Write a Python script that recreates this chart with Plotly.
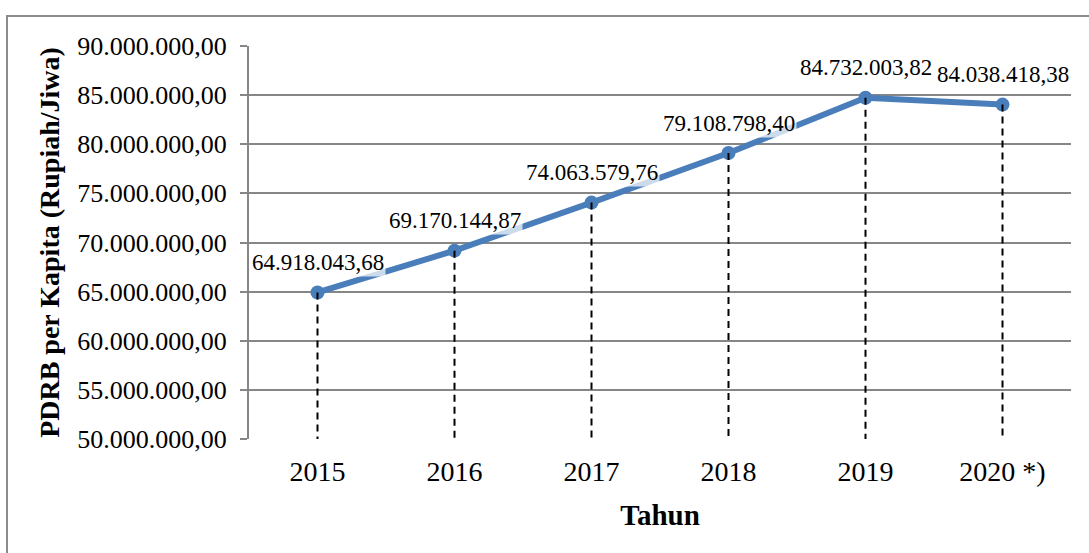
import plotly.graph_objects as go

years = ["2015", "2016", "2017", "2018", "2019", "2020 *)"]
pdrb = [64918043.68, 69170144.87, 74063579.76, 79108798.40, 84732003.82, 84038418.38]
y_min, y_max, y_step = 50000000, 90000000, 5000000

def fmt(v):
    s = f"{v:,.2f}"
    return s.replace(",", "X").replace(".", ",").replace("X", ".")

SERIF = "Liberation Serif"
W, H = 1089, 553
L, R, T, B = 249, 18, 46, 114
BLUE = "#4a7ebb"
GRID = "#868686"

fig = go.Figure()
fig.add_trace(go.Scatter(
    x=years, y=pdrb, mode="lines+markers",
    line=dict(color=BLUE, width=6),
    marker=dict(color=BLUE, size=14),
    showlegend=False, hoverinfo="skip",
))
# drop lines
dx, dy = [], []
for yr, v in zip(years, pdrb):
    dx += [yr, yr, None]
    dy += [v, y_min, None]
fig.add_trace(go.Scatter(
    x=dx, y=dy, mode="lines",
    line=dict(color="black", width=2, dash="7px,5px"),
    showlegend=False, hoverinfo="skip",
))

for i, v in enumerate(pdrb):
    fig.add_annotation(
        x=i, y=v, text=fmt(v), showarrow=False, yshift=30,
        font=dict(family=SERIF, size=23, color="black"),
        bgcolor="rgba(255,255,255,0.72)", borderpad=1,
    )

pw = W - L - R
ph = H - T - B
fig.add_shape(
    type="rect", xref="paper", yref="paper",
    x0=(7 - L) / pw, x1=(W + 10 - L) / pw,
    y0=-(H + 10 - T - ph) / ph, y1=1 + (T - 16) / ph,
    line=dict(color="#8c8c8c", width=2), layer="below",
)

fig.update_layout(
    width=W, height=H,
    margin=dict(l=L, r=R, t=T, b=B),
    paper_bgcolor="white", plot_bgcolor="white",
    separators=",.",
    font=dict(family=SERIF, color="black"),
)
fig.update_xaxes(
    type="category", showgrid=False, showline=False, ticks="",
    tickfont=dict(size=28, family=SERIF), ticklabelstandoff=13,
    title=dict(text="<b>Tahun</b>", font=dict(size=29, family=SERIF), standoff=18),
    range=[-0.5, len(years) - 0.5], automargin=False,
)
fig.update_yaxes(
    range=[y_min, y_max + 2000], dtick=y_step, tick0=y_min, tickformat=",.2f",
    showgrid=True, gridcolor=GRID, gridwidth=2,
    showline=True, linecolor=GRID, linewidth=2,
    ticks="outside", ticklen=7, tickcolor=GRID, tickwidth=2,
    tickfont=dict(size=26, family=SERIF), ticklabelstandoff=8,
    title=dict(text="<b>PDRB per Kapita (Rupiah/Jiwa)</b>", font=dict(size=28, family=SERIF), standoff=9),
    zeroline=False, automargin=False,
)
fig.write_html("out.html", config={"displayModeBar": False},
               post_script="document.body.style.margin='0';")
